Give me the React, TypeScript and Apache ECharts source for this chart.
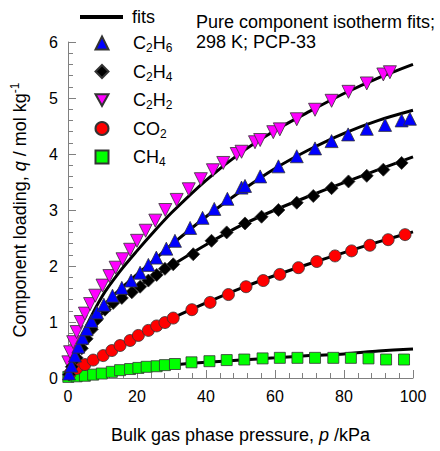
import React, { useEffect, useRef } from "react";
import * as echarts from "echarts";

type Pt = [number, number];

const xTicks = { min: 0, max: 100, interval: 20 };
const yTicks = { min: 0, max: 6, interval: 1 };

const seriesNames = ["C2H6", "C2H4", "C2H2", "CO2", "CH4"];
const legendLabels: Record<string, string> = {
  fits: "fits",
  C2H6: "C{s|2}H{s|6}",
  C2H4: "C{s|2}H{s|4}",
  C2H2: "C{s|2}H{s|2}",
  CO2: "CO{s|2}",
  CH4: "CH{s|4}",
};

const c2h6Points: Pt[] = [
  [0.3, 0.08], [1.0, 0.22], [2.0, 0.4], [3.0, 0.56], [4.2, 0.72], [5.4, 0.87],
  [6.8, 1.02], [8.4, 1.17], [10.4, 1.31], [12.9, 1.47], [15.6, 1.61], [18.3, 1.74],
  [20.9, 1.88], [23.3, 2.02], [25.6, 2.15], [28.5, 2.31], [31.0, 2.45], [35.4, 2.68],
  [39.0, 2.86], [42.4, 3.02], [46.2, 3.2], [50.3, 3.4], [51.3, 3.43], [55.7, 3.6],
  [61.0, 3.78], [66.3, 3.96], [71.6, 4.1], [76.4, 4.23], [81.2, 4.35], [86.6, 4.45],
  [91.9, 4.52], [96.7, 4.6], [99.1, 4.63],
];
const c2h4Points: Pt[] = [
  [0.3, 0.06], [1.1, 0.2], [2.5, 0.36], [4.0, 0.53], [5.4, 0.7], [6.9, 0.87],
  [8.3, 1.04], [10.7, 1.22], [13.1, 1.34], [15.6, 1.43], [18.5, 1.53], [20.9, 1.63],
  [23.3, 1.74], [25.7, 1.84], [28.1, 1.95], [30.5, 2.03], [36.3, 2.21], [41.6, 2.45],
  [46.0, 2.6], [51.3, 2.76], [56.1, 2.88], [61.0, 3.0], [66.3, 3.13], [71.1, 3.25],
  [76.4, 3.39], [81.3, 3.51], [86.6, 3.61], [91.4, 3.72], [96.7, 3.84],
];
const c2h2Points: Pt[] = [
  [0.1, 0.28], [0.6, 0.46], [1.5, 0.64], [2.5, 0.82], [3.7, 1.0], [4.9, 1.15],
  [6.4, 1.32], [7.9, 1.47], [10.0, 1.65], [12.0, 1.82], [13.8, 1.97], [15.8, 2.12],
  [18.0, 2.29], [20.0, 2.45], [22.5, 2.63], [25.3, 2.81], [28.2, 3.0], [31.5, 3.18],
  [35.0, 3.37], [38.5, 3.55], [42.0, 3.71], [45.0, 3.84], [48.9, 4.0], [50.3, 4.04],
  [54.2, 4.21], [55.7, 4.25], [59.5, 4.39], [61.4, 4.44], [66.3, 4.62], [71.6, 4.79],
  [76.4, 4.95], [81.3, 5.11], [86.6, 5.26], [91.4, 5.42], [93.3, 5.46],
];
const co2Points: Pt[] = [
  [0.6, 0.08], [2.5, 0.17], [4.9, 0.24], [7.3, 0.32], [10.2, 0.4], [12.7, 0.49],
  [15.1, 0.58], [18.0, 0.67], [20.4, 0.76], [23.3, 0.85], [25.7, 0.93], [28.1, 0.99],
  [30.5, 1.07], [35.9, 1.22], [41.2, 1.35], [46.5, 1.49], [51.6, 1.63], [56.6, 1.74],
  [61.4, 1.85], [66.8, 1.97], [72.1, 2.08], [77.4, 2.18], [82.2, 2.27], [87.5, 2.37],
  [92.8, 2.47], [97.7, 2.56],
];
const ch4Points: Pt[] = [
  [0.1, 0.02], [2.5, 0.03], [4.9, 0.04], [7.3, 0.06], [9.8, 0.08], [12.7, 0.11],
  [15.1, 0.14], [18.0, 0.16], [20.4, 0.18], [22.8, 0.2], [25.7, 0.21], [28.1, 0.23],
  [31.0, 0.25], [35.8, 0.28], [41.0, 0.3], [46.0, 0.32], [51.1, 0.33], [56.4, 0.35],
  [61.4, 0.36], [66.5, 0.36], [71.6, 0.36], [76.9, 0.36], [82.0, 0.36], [87.1, 0.35],
  [92.2, 0.33], [97.4, 0.33],
];

const fitC2H6: Pt[] = [
  [0, 0], [2, 0.42], [5, 0.85], [10, 1.27], [15, 1.58], [20, 1.85], [25, 2.11],
  [30, 2.38], [40, 2.88], [50, 3.33], [60, 3.74], [70, 4.08], [80, 4.37], [90, 4.6], [100, 4.78],
];
const fitC2H4: Pt[] = [
  [0, 0], [2, 0.3], [5, 0.66], [8, 1.0], [10, 1.16], [15, 1.42], [20, 1.62], [25, 1.82],
  [30, 2.01], [40, 2.38], [50, 2.72], [60, 3.0], [70, 3.25], [80, 3.49], [90, 3.72], [100, 3.95],
];
const fitC2H2: Pt[] = [
  [0, 0], [2, 0.4], [5, 0.88], [10, 1.47], [15, 1.9], [20, 2.27], [25, 2.62],
  [30, 2.95], [40, 3.53], [50, 4.02], [60, 4.42], [70, 4.76], [80, 5.08], [90, 5.36], [100, 5.6],
];
const fitCO2: Pt[] = [
  [0, 0], [5, 0.21], [10, 0.4], [20, 0.75], [30, 1.06], [40, 1.34], [50, 1.6],
  [60, 1.83], [70, 2.04], [80, 2.24], [90, 2.43], [100, 2.61],
];
const fitCH4: Pt[] = [
  [0, 0], [10, 0.08], [20, 0.16], [30, 0.23], [40, 0.28], [50, 0.32], [60, 0.36],
  [70, 0.4], [80, 0.43], [90, 0.48], [100, 0.52],
];

const FONT = "'Liberation Sans', Arial, sans-serif";
const AXIS_GRAY = "#808080";

export default function App() {
  const ref = useRef<HTMLDivElement>(null);
  useEffect(() => {
    document.body.style.margin = "0";
    document.documentElement.style.overflow = "hidden";
    if (!ref.current) return;
    const chart = echarts.init(ref.current, undefined, { renderer: "svg" });

    const fits = [fitC2H6, fitC2H4, fitC2H2, fitCO2, fitCH4].map((d) => ({
      name: "fits",
      type: "line",
      data: d,
      smooth: 0.3,
      symbol: "none",
      lineStyle: { color: "#000", width: 3 },
      itemStyle: { color: "#000" },
      z: 2,
    }));

    const marker = (
      name: string,
      data: Pt[],
      symbol: string,
      color: string,
      size: number,
      z: number
    ) => ({
      name,
      type: "scatter",
      data,
      symbol,
      symbolSize: size,
      itemStyle: { color, borderColor: "#333", borderWidth: 0.8, opacity: 1 },
      z,
    });

    const legendText = (padLeft: number) => ({
      fontFamily: FONT,
      fontSize: 18,
      color: "#000",
      lineHeight: 22,
      padding: [0, 0, 0, padLeft],
      rich: {
        s: { fontSize: 12, lineHeight: 13, verticalAlign: "bottom", fontFamily: FONT, color: "#000" },
      },
    });

    const option: any = {
      animation: false,
      textStyle: { fontFamily: FONT },
      title: {
        text: "Pure component isotherm fits;\n298 K; PCP-33",
        left: 196,
        top: 12,
        padding: 0,
        textStyle: {
          fontFamily: FONT,
          fontSize: 18,
          fontWeight: "normal",
          color: "#000",
          lineHeight: 20,
        },
      },
      legend: [
        {
          data: [{ name: "fits", icon: "rect" }],
          orient: "vertical",
          left: 80,
          top: 6,
          padding: 0,
          itemWidth: 43,
          itemHeight: 4,
          selectedMode: false,
          formatter: (n: string) => legendLabels[n] ?? n,
          textStyle: legendText(4),
        },
        {
          data: seriesNames,
          orient: "vertical",
          left: 94.5,
          top: 32,
          padding: 0,
          itemWidth: 13,
          itemHeight: 13,
          itemGap: 6.5,
          selectedMode: false,
          formatter: (n: string) => legendLabels[n] ?? n,
          textStyle: legendText(19.5),
        },
      ],
      grid: { left: 68, right: 27, top: 42, bottom: 68, containLabel: false },
      xAxis: {
        type: "value",
        min: xTicks.min,
        max: xTicks.max,
        interval: xTicks.interval,
        name: "Bulk gas phase pressure, {i|p} /kPa",
        nameLocation: "middle",
        nameGap: 46,
        nameTextStyle: {
          fontFamily: FONT,
          fontSize: 18,
          color: "#000",
          lineHeight: 22,
          rich: { i: { fontStyle: "italic", fontSize: 18, fontFamily: FONT, color: "#000", lineHeight: 22 } },
        },
        axisLine: { show: true, lineStyle: { color: AXIS_GRAY, width: 1 } },
        axisTick: { show: true, inside: true, length: 8, lineStyle: { color: AXIS_GRAY } },
        minorTick: { show: true, splitNumber: 5, length: 5, lineStyle: { color: AXIS_GRAY } },
        axisLabel: { fontFamily: FONT, fontSize: 16, color: "#000", margin: 10 },
        splitLine: { show: false },
      },
      yAxis: {
        type: "value",
        min: yTicks.min,
        max: yTicks.max,
        interval: yTicks.interval,
        name: "Component loading, {i|q} / mol kg{sup|-1}",
        nameLocation: "middle",
        nameGap: 37,
        nameTextStyle: {
          fontFamily: FONT,
          fontSize: 18,
          color: "#000",
          lineHeight: 22,
          rich: {
            i: { fontStyle: "italic", fontSize: 18, fontFamily: FONT, color: "#000", lineHeight: 22 },
            sup: { fontSize: 12, lineHeight: 13, verticalAlign: "top", fontFamily: FONT, color: "#000" },
          },
        },
        axisLine: { show: true, lineStyle: { color: AXIS_GRAY, width: 1 } },
        axisTick: { show: true, inside: true, length: 8, lineStyle: { color: AXIS_GRAY } },
        minorTick: { show: true, splitNumber: 5, length: 5, lineStyle: { color: AXIS_GRAY } },
        axisLabel: { fontFamily: FONT, fontSize: 16, color: "#000", margin: 10 },
        splitLine: { show: false },
      },
      series: [
        ...fits,
        marker("CH4", ch4Points, "rect", "#00ff00", 11, 3),
        marker("CO2", co2Points, "circle", "#ff0000", 12, 4),
        marker("C2H2", c2h2Points, "path://M0,0L10,0L5,9Z", "#ff00ff", 13, 5),
        marker("C2H4", c2h4Points, "diamond", "#000000", 13, 6),
        marker("C2H6", c2h6Points, "triangle", "#0000ff", 13, 7),
      ],
    };
    chart.setOption(option);
    return () => chart.dispose();
  }, []);
  return <div ref={ref} style={{ width: 440, height: 451 }} />;
}
